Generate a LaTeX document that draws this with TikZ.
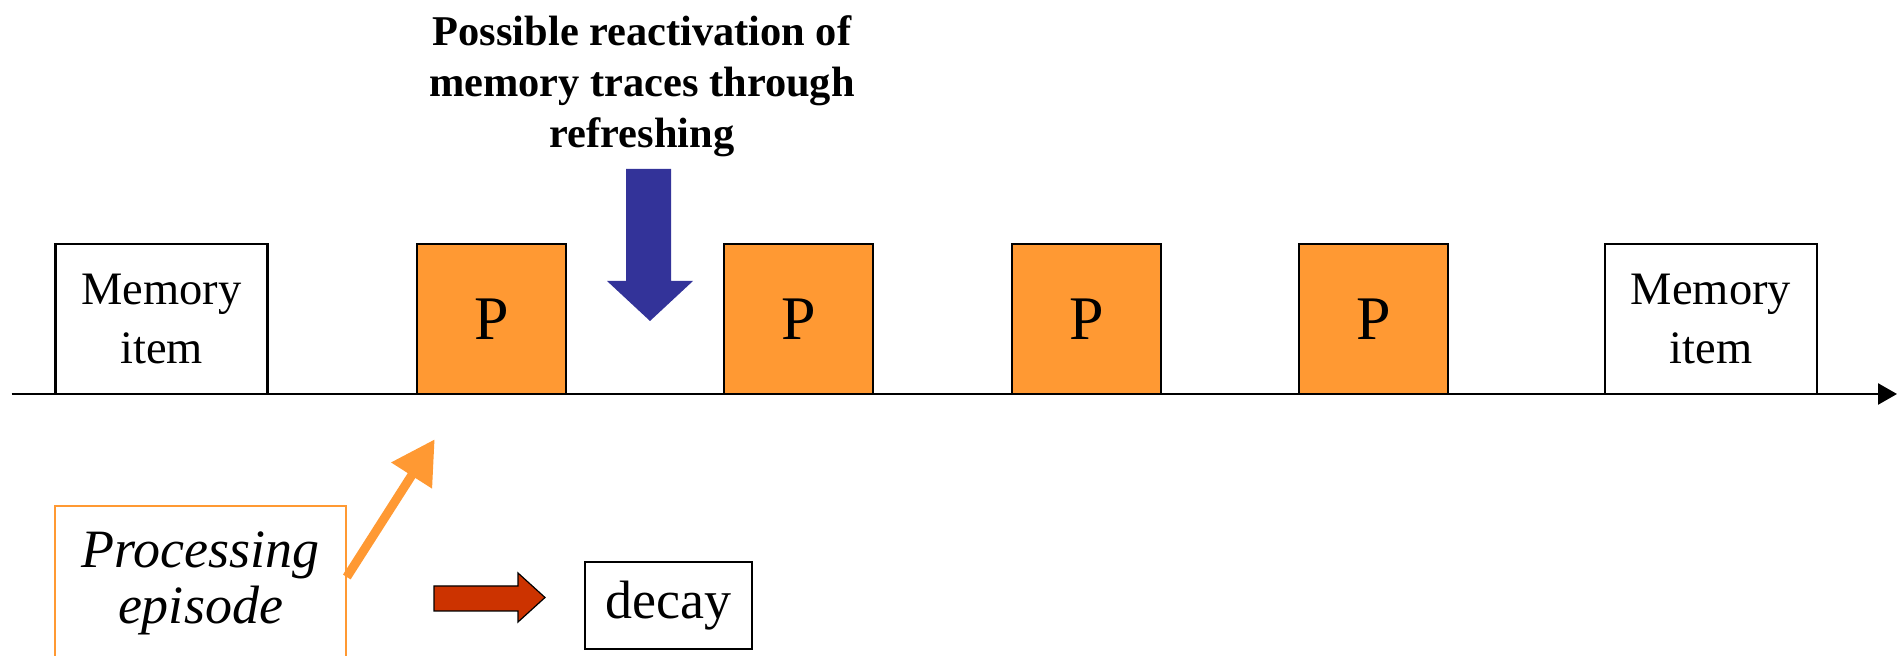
\documentclass[tikz,border=0pt]{standalone}
\usepackage{fontspec}
\setmainfont{Liberation Serif}
\usepackage[dvipsnames]{xcolor}
\usetikzlibrary{arrows.meta}

\definecolor{procorange}{HTML}{FF9933}
\definecolor{refreshblue}{HTML}{333399}
\definecolor{decayred}{HTML}{CC3300}

\begin{document}
\begin{tikzpicture}[x=0.5pt,y=-0.5pt,line width=1.3pt,
    item node/.style={draw,fill=white,minimum width=106pt,minimum height=75pt,inner sep=0pt,align=center,font=\fontsize{23.25}{29.5}\selectfont},
    p node/.style={draw,fill=procorange,minimum width=74.5pt,minimum height=75pt,inner sep=0pt,font=\fontsize{31}{36}\selectfont}]

            \useasboundingbox (0,0) rectangle (1902,656);
            \clip (0,0) rectangle (1902,656);

            \coordinate (t0) at (11.5,394);
            \coordinate (t1) at (1897,394);
            \draw[-{Triangle[length=9.5pt,width=10.5pt]}] (t0) -- (t1);

            \node[item node] (mem1) at (161.5,319) {Memory\\item};
            \node[p node] (p1) at (491.5,319) {P};
            \node[p node] (p2) at (798.5,319) {P};
            \node[p node] (p3) at (1086.5,319) {P};
            \node[p node] (p4) at (1373.5,319) {P};
            \node[item node] (mem2) at (1711,319) {Memory\\item};

            \node[anchor=north,inner sep=0pt,align=center,font=\bfseries\fontsize{21.2}{25.5}\selectfont] (title) at (642,14)
                {Possible reactivation of\\memory traces through\\refreshing};
            \fill[refreshblue] (626,169) -- (671,169) -- (671,281) -- (693,281) -- (650,321) -- (607,281) -- (626,281) -- cycle;

            \node[draw=procorange,line width=0.8pt,minimum width=145.5pt,minimum height=77.5pt,inner sep=0pt,align=center,font=\itshape\fontsize{27}{28}\selectfont] (proc) at (200.5,583.5) {Processing\\episode};
            \draw[procorange,line width=4.5pt,-{Triangle[length=21.5pt,width=23pt]}] ([shift={(0,-6.5)}]proc.east) -- ([shift={(19,44)}]p1.south west);

            \filldraw[fill=decayred,draw=black,line width=0.6pt] (434,586) -- (518,586) -- (518,573) -- (545,597.5) -- (518,622) -- (518,611) -- (434,611) -- cycle;
            \node[draw,minimum width=83.5pt,minimum height=43.5pt,inner sep=0pt,font=\fontsize{27}{30}\selectfont] (decay) at (668.5,605.5) {decay};

            ;
        \end{tikzpicture}
\end{document}
